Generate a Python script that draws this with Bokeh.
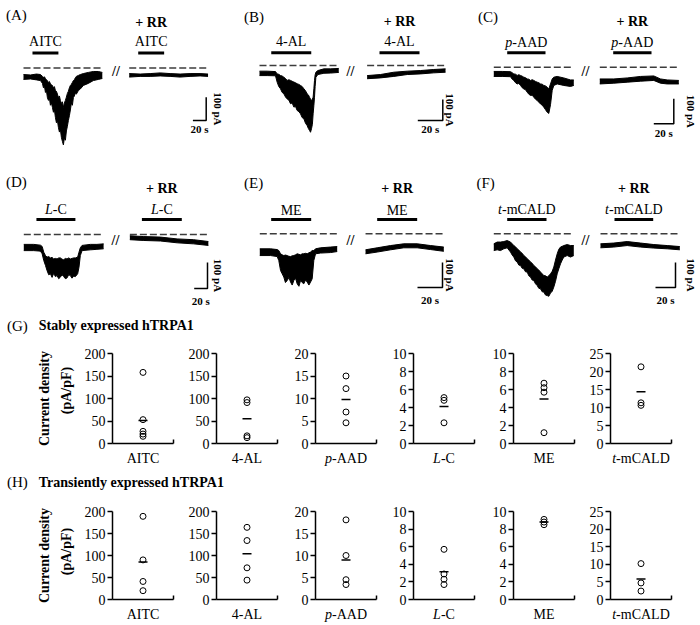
import math
from bokeh.plotting import figure
from bokeh.layouts import column, row
from bokeh.models import Range1d, FixedTicker
from bokeh.core.properties import value
from bokeh.embed import file_html
from bokeh.resources import INLINE

SERIF = "'Liberation Serif', 'Times New Roman', serif"

# ---------------- Current traces (time in s, current in pA; lo/hi = envelope of noisy record)
A_ctrl_t = [0, 10.5, 19.5, 25.5, 28.5, 30, 31.5, 33, 34.5, 36, 37.5, 39, 40.5, 42, 43.5, 45, 46.5, 48, 49.5, 51,
            52.5, 54, 55.5, 57, 58.5, 60, 61.5, 63, 64.5, 66, 67.5, 69, 70.5, 72, 73.5, 75, 76.5, 78, 79.5, 82.5,
            85.5, 90, 97.5, 105, 112.5, 118.5]
A_ctrl_hi = [-28, -30, -26, -28, -36, -40, -38, -45, -50, -55, -62, -58, -68, -72, -75, -85, -80, -97, -100, -112,
             -127, -120, -140, -152, -145, -169, -150, -139, -125, -109, -100, -85, -75, -70, -62, -54, -50, -42, -36, -32,
             -28, -24, -19, -15, -15, -19]
A_ctrl_lo = [-49, -47, -51, -54, -66, -85, -78, -105, -98, -128, -139, -130, -160, -150, -169, -190, -180, -212, -235, -225,
             -255, -275, -265, -298, -315, -330, -300, -310, -270, -250, -225, -205, -180, -150, -160, -127, -120, -108, -112, -97,
             -90, -75, -66, -54, -49, -45]
A_rr_t = [159, 175.5, 190.5, 205.5, 220.5, 235.5, 250.5, 265.5, 277.5]
A_rr_hi = [-24, -26, -24, -21, -24, -26, -24, -24, -26]
A_rr_lo = [-39, -36, -36, -34, -36, -39, -36, -34, -36]
A_on = [13.5, 52.5]
A_rr_on = [172.5, 211.5]

B_ctrl_t = [0, 6.1, 12.8, 14.1, 15.4, 16.8, 18.1, 19.5, 20.8, 22.1, 23.5, 24.8, 26.1, 27.5, 28.8, 30.1, 31.5, 32.8,
            34.1, 35.5, 36.8, 38.1, 39.1, 40.0, 40.8, 41.6, 42.3, 42.9, 43.5, 44.0, 44.5, 45.1, 46.7, 51.5, 56.8, 63.4]
B_ctrl_hi = [-27, -27, -29, -40, -42, -48, -50, -56, -62, -71, -68, -71, -75, -79, -82, -87, -90, -95,
             -100, -111, -120, -135, -140, -151, -160, -167, -160, -151, -110, -71, -45, -32, -24, -16, -16, -14]
B_ctrl_lo = [-48, -48, -49, -79, -100, -111, -128, -135, -150, -159, -165, -182, -178, -198, -195, -214, -220, -230,
             -248, -254, -275, -286, -300, -309, -318, -301, -280, -230, -190, -151, -100, -56, -43, -37, -36, -33]
B_rr_t = [86.1, 96.8, 107.4, 118.2, 128.8, 139.4, 148.8]
B_rr_hi = [-48, -43, -32, -27, -24, -19, -16]
B_rr_lo = [-63, -59, -52, -43, -40, -35, -32]
B_on = [9.4, 41.4]
B_rr_on = [96, 128]

C_ctrl_t = [0, 8.4, 16.7, 18.4, 20, 21.7, 23.4, 25, 26.7, 28.4, 30, 31.7, 33.4, 35, 36.7, 38.4, 40, 41.7, 43.4, 45,
            46.7, 48.4, 50, 51.7, 53.4, 55, 56.7, 58.4, 60, 63.4, 70, 76.7, 80]
C_ctrl_hi = [-17, -17, -18, -22, -27, -28, -33, -30, -33, -36, -40, -42, -47, -48, -53, -50, -53, -57, -60, -62,
             -67, -68, -73, -75, -80, -87, -67, -47, -40, -37, -43, -51, -51]
C_ctrl_lo = [-37, -37, -38, -48, -53, -62, -67, -65, -73, -82, -87, -90, -100, -108, -113, -112, -120, -128, -133, -140,
             -147, -152, -160, -170, -180, -185, -150, -93, -73, -67, -73, -77, -73]
C_rr_t = [106, 120, 133.4, 146.7, 160, 166.7, 173.4, 185]
C_rr_hi = [-47, -47, -43, -37, -35, -47, -51, -53]
C_rr_lo = [-67, -64, -60, -56, -53, -64, -67, -67]
C_on = [13.4, 51.7]
C_rr_on = [119.4, 157.7]

D_ctrl_t = [0, 15, 25, 27.6, 30, 32.6, 35, 37.5, 40, 42.5, 45, 47.5, 50, 52.5, 55, 57.5, 60, 62.5, 65, 67.5, 70,
            72.5, 75, 77.6, 81, 83, 85, 87.6, 100, 110, 120]
D_ctrl_hi = [-38, -38, -41, -46, -68, -81, -87, -85, -90, -88, -94, -92, -94, -90, -90, -95, -97, -92, -94, -90, -94,
             -92, -90, -90, -87, -68, -51, -42, -38, -38, -36]
D_ctrl_lo = [-62, -62, -64, -74, -100, -119, -139, -155, -151, -165, -149, -162, -158, -170, -164, -155, -162, -170, -167, -155, -158,
             -168, -160, -162, -151, -126, -81, -62, -59, -57, -55]
D_rr_t = [159.5, 180.5, 205.5, 230.6, 255.5, 277.5]
D_rr_hi = [-5, -8, -10, -17, -20, -27]
D_rr_lo = [-20, -23, -25, -32, -36, -42]
D_on = [19, 77.6]
D_rr_on = [177.6, 237.6]

E_ctrl_t = [0, 8.6, 13.9, 15.2, 16.6, 17.9, 19.2, 20.5, 21.9, 23.3, 24.6, 25.9, 27.2, 28.6, 29.9, 31.3, 32.6, 33.9,
            35.2, 36.6, 37.9, 39.3, 40.6, 41.9, 43.2, 44.6, 48.6, 56.6, 61.9]
E_ctrl_hi = [-60, -60, -63, -67, -80, -84, -87, -85, -87, -90, -91, -88, -87, -84, -80, -82, -84, -80,
             -80, -78, -80, -76, -73, -67, -67, -60, -56, -53, -51]
E_ctrl_lo = [-87, -87, -91, -107, -147, -160, -173, -195, -187, -175, -193, -205, -187, -178, -200, -210, -187, -195,
             -200, -185, -193, -205, -193, -180, -107, -80, -77, -75, -71]
E_rr_t = [84.6, 93.9, 104.6, 115.2, 125.9, 136.6, 147.2]
E_rr_hi = [-64, -56, -47, -40, -40, -47, -53]
E_rr_lo = [-80, -73, -64, -56, -56, -63, -70]
E_on = [9.1, 41.1]
E_rr_on = [93.9, 125.9]

F_ctrl_t = [0, 3.4, 6.7, 10, 13.4, 16.7, 18.4, 20, 21.7, 23.4, 25, 26.7, 28.4, 30, 31.7, 33.4, 35, 36.7, 38.4, 40,
            41.7, 43.4, 45, 46.7, 48.4, 50, 51.7, 53.4, 55, 56.7, 58.4, 60, 61.7, 63.4, 65, 66.7, 68.4, 70, 73.4,
            76.7, 80]
F_ctrl_hi = [-40, -33, -33, -31, -27, -33, -40, -47, -52, -60, -65, -73, -78, -87, -92, -100, -105, -113, -118, -127,
             -132, -140, -145, -153, -160, -167, -168, -173, -168, -160, -150, -133, -105, -80, -62, -53, -50, -47, -43,
             -47, -47]
F_ctrl_lo = [-67, -64, -67, -60, -56, -73, -85, -93, -108, -113, -125, -127, -138, -140, -152, -153, -168, -173, -185, -187,
             -200, -207, -218, -220, -232, -233, -245, -247, -250, -237, -230, -213, -190, -160, -140, -120, -105, -93, -87,
             -93, -87]
F_rr_t = [106.7, 120, 133.4, 146.7, 160, 173.4, 186]
F_rr_hi = [-40, -37, -31, -37, -43, -47, -51]
F_rr_lo = [-56, -53, -47, -53, -57, -60, -64]
F_on = [13.4, 52.7]
F_rr_on = [120.7, 159.4]

# ---------------- Current density scatter data (pA/pF)
categories = ["AITC", "4-AL", "p-AAD", "L-C", "ME", "t-mCALD"]
cat_parts = [[("AITC", "normal")], [("4-AL", "normal")], [("p", "italic"), ("-AAD", "normal")],
             [("L", "italic"), ("-C", "normal")], [("ME", "normal")], [("t", "italic"), ("-mCALD", "normal")]]
y_max = [200, 200, 20, 10, 10, 25]
y_step = [50, 50, 5, 2, 2, 5]
stable_vals = [[158, 53, 27, 21, 16], [97, 91, 17, 13], [15, 12.2, 7, 4.6], [5.1, 4.8, 2.3],
               [6.7, 6.2, 5.7, 1.2], [21.3, 11.3, 10.6]]
stable_mean = [51, 55, 9.8, 4.1, 4.95, 14.4]
trans_vals = [[189, 90, 41, 20], [164, 134, 72, 44], [18.1, 10, 4.5, 3.4], [5.7, 2.9, 2.3, 1.7],
              [9.1, 8.8, 8.5], [10.2, 4.7, 2.4]]
trans_mean = [85, 104, 9.0, 3.15, 8.8, 5.8]

# Times metrics (em) for centering mixed-style labels
W_REG = {'A': .722, 'I': .333, 'T': .611, 'C': .667, '4': .5, '-': .333, 'L': .611, 'D': .722,
         'M': .889, 'E': .611, 'm': .778, 'p': .5, 't': .278}
W_IT = {'p': .5, 'L': .556, 't': .278}


def split_parts(parts, size):
    widths = []
    for txt, style in parts:
        tab = W_IT if style == "italic" else W_REG
        widths.append(sum(tab.get(c, .5) for c in txt) * size)
    x = -sum(widths) / 2
    out = []
    for (txt, style), w in zip(parts, widths):
        out.append((txt, style, x))
        x += w
    return out


def glyph_parts(p, x, y, parts, size=14, baseline="middle"):
    for txt, style, off in split_parts(parts, size):
        p.text(x=[x], y=[y], text=[txt], x_offset=off, text_align="left", text_baseline=baseline,
               text_font=value(SERIF), text_font_size=f"{size}px", text_font_style=style,
               text_color="black")


def gtext(p, x, y, txt, size=14, style="normal", align="center", angle=0):
    p.text(x=[x], y=[y], text=[txt], text_align=align, text_baseline="middle", angle=angle,
           text_font=value(SERIF), text_font_size=f"{size}px", text_font_style=style,
           text_color="black")


def blank(p):
    p.grid.visible = False
    p.outline_line_color = None
    return p


def canvas(W, H):
    return blank(figure(width=W, height=H, x_range=Range1d(0, W), y_range=Range1d(H, 0),
                        output_backend="svg", toolbar_location=None, x_axis_location=None,
                        y_axis_location=None, min_border=0))


def trace_panel(g, ctrl, rr, on, rr_on, parts, tag):
    s_px = 20.0 / g["bar_h"]
    pa_px = 100.0 / g["bar_v"]
    tx = lambda rx: (rx - g["ax"]) * s_px
    ty = lambda ry: (g["ay"] - ry) * pa_px
    W = g["x1"] - g["x0"]
    H = g["y1"] - g["y0"]
    p = blank(figure(width=W, height=H, x_range=Range1d(tx(g["x0"]), tx(g["x1"])),
                     y_range=Range1d(ty(g["y1"]), ty(g["y0"])), output_backend="svg",
                     toolbar_location=None, x_axis_location=None, y_axis_location=None, min_border=0))
    for t, lo, hi in (ctrl, rr):
        p.line([t[0], t[-1]], [0, 0], line_color="#3c3c3c", line_width=1.6, line_dash="7 3")
        p.varea(x=t, y1=lo, y2=hi, fill_color="black")
        p.line(t, lo, line_color="black", line_width=1.0)
        p.line(t, hi, line_color="black", line_width=1.0)
    yb = ty(g["bar_y"])
    for w in (on, rr_on):
        p.line(w, [yb, yb], line_color="black", line_width=3)
        glyph_parts(p, (w[0] + w[1]) / 2, ty(g["lab_y"]), parts)
    gtext(p, (rr_on[0] + rr_on[1]) / 2, ty(g["rr_y"]), "+ RR", 14, "bold")
    gtext(p, tx(g["tag_x"]), ty(g["tag_y"]), tag, 15, "normal", "left")
    gtext(p, tx(g["sl_x"]), ty(g["sl_y"]), "//", 14, "bold")
    cx, cy = tx(g["sc_x"]), ty(g["sc_y"])
    p.line([cx - 20, cx, cx], [cy, cy, cy + 100], line_color="black", line_width=1.5)
    gtext(p, cx - 10, ty(g["s20_y"]), "20 s", 11, "bold")
    gtext(p, tx(g["pa_x"]), cy + 50, "100 pA", 11, "bold", "center", -math.pi / 2)
    return p


GA = dict(x0=0, x1=240, y0=0, y1=170, ax=23, ay=67.5, bar_h=13.3, bar_v=23.3, sc_x=205.7, sc_y=120,
          tag_x=5.5, tag_y=14.5, rr_y=22, lab_y=41, bar_y=52.5, sl_x=115.5, sl_y=70.5, s20_y=128, pa_x=217)
GB = dict(x0=240, x1=474, y0=0, y1=170, ax=259, ay=65, bar_h=25, bar_v=21, sc_x=442.3, sc_y=120,
          tag_x=243.5, tag_y=16, rr_y=21, lab_y=41, bar_y=52.3, sl_x=350, sl_y=71, s20_y=128, pa_x=449)
GC = dict(x0=474, x1=700, y0=0, y1=170, ax=493.3, ay=66.7, bar_h=20, bar_v=25, sc_x=673.3, sc_y=123.3,
          tag_x=477.5, tag_y=16, rr_y=21, lab_y=42, bar_y=52.3, sl_x=585, sl_y=71, s20_y=132.7, pa_x=690)
GD = dict(x0=0, x1=240, y0=170, y1=312, ax=23.3, ay=234, bar_h=13.3, bar_v=26, sc_x=207, sc_y=288,
          tag_x=5.5, tag_y=181, rr_y=188, lab_y=209, bar_y=219, sl_x=115, sl_y=240, s20_y=300, pa_x=217)
GE = dict(x0=240, x1=474, y0=170, y1=312, ax=259.3, ay=233.3, bar_h=25, bar_v=25, sc_x=442, sc_y=287,
          tag_x=243.5, tag_y=182, rr_y=188, lab_y=210, bar_y=219, sl_x=350, sl_y=240, s20_y=299, pa_x=449)
GF = dict(x0=474, x1=700, y0=170, y1=312, ax=493.3, ay=233.3, bar_h=20, bar_v=25, sc_x=675, sc_y=287,
          tag_x=476, tag_y=182, rr_y=188, lab_y=209, bar_y=219, sl_x=585, sl_y=240, s20_y=299, pa_x=690)

pA = trace_panel(GA, (A_ctrl_t, A_ctrl_lo, A_ctrl_hi), (A_rr_t, A_rr_lo, A_rr_hi), A_on, A_rr_on, cat_parts[0], "(A)")
pB = trace_panel(GB, (B_ctrl_t, B_ctrl_lo, B_ctrl_hi), (B_rr_t, B_rr_lo, B_rr_hi), B_on, B_rr_on, cat_parts[1], "(B)")
pC = trace_panel(GC, (C_ctrl_t, C_ctrl_lo, C_ctrl_hi), (C_rr_t, C_rr_lo, C_rr_hi), C_on, C_rr_on, cat_parts[2], "(C)")
pD = trace_panel(GD, (D_ctrl_t, D_ctrl_lo, D_ctrl_hi), (D_rr_t, D_rr_lo, D_rr_hi), D_on, D_rr_on, cat_parts[3], "(D)")
pE = trace_panel(GE, (E_ctrl_t, E_ctrl_lo, E_ctrl_hi), (E_rr_t, E_rr_lo, E_rr_hi), E_on, E_rr_on, cat_parts[4], "(E)")
pF = trace_panel(GF, (F_ctrl_t, F_ctrl_lo, F_ctrl_hi), (F_rr_t, F_rr_lo, F_rr_hi), F_on, F_rr_on, cat_parts[5], "(F)")


def header(H, tag, title, yc):
    p = canvas(700, H)
    gtext(p, 6.5, yc, tag, 15, "normal", "left")
    gtext(p, 38.3, yc, title, 14, "bold", "left")
    return p


TITLE_W = 75
WIDTHS = [110, 100, 100, 100, 98, 117]
BL = [37, 31, 30, 28, 28, 27]
BR = [12, 8, 9, 11, 9, 29]


def scatter_panel(i, vals, mean, bt, fh, bb):
    p = blank(figure(width=WIDTHS[i], height=bt + fh + bb, x_range=Range1d(0, 1),
                     y_range=Range1d(0, y_max[i]), output_backend="svg", toolbar_location=None,
                     min_border_left=BL[i], min_border_right=BR[i], min_border_top=bt,
                     min_border_bottom=bb))
    p.yaxis.ticker = FixedTicker(ticks=list(range(0, y_max[i] + 1, y_step[i])))
    p.xaxis.ticker = FixedTicker(ticks=[], minor_ticks=[1])
    xa, ya = p.xaxis[0], p.yaxis[0]
    xa.major_tick_in = 0
    xa.major_tick_out = 0
    xa.major_label_standoff = 0
    xa.minor_tick_in = 4
    xa.minor_tick_out = 0
    xa.minor_tick_line_width = 1.5
    xa.minor_tick_line_color = "black"
    ya.major_tick_in = 0
    ya.major_tick_out = 5
    ya.major_label_standoff = 2
    ya.minor_tick_line_color = None
    for ax in (xa, ya):
        ax.axis_line_width = 1.5
        ax.axis_line_color = "black"
        ax.major_tick_line_width = 1.5
        ax.major_tick_line_color = "black"
    ya.major_label_text_font = SERIF
    ya.major_label_text_font_size = "14px"
    ya.major_label_text_color = "black"
    p.scatter(x=[0.5] * len(vals), y=vals, marker="circle", size=6, fill_color=None,
              line_color="black", line_width=1)
    p.scatter(x=[0.5], y=[mean], marker="dash", size=9, line_color="black", line_width=1.5)
    return p


def ytitle_fig(H, cd_y, pa_y):
    p = canvas(TITLE_W, H)
    gtext(p, 44, cd_y, "Current density", 14, "bold", "center", math.pi / 2)
    gtext(p, 66, pa_y, "(pA/pF)", 14, "bold", "center", math.pi / 2)
    return p


def label_strip(H):
    W = sum(WIDTHS)
    p = canvas(W, H)
    x0 = 0
    for i in range(6):
        fw = WIDTHS[i] - BL[i] - BR[i]
        glyph_parts(p, x0 + BL[i] + fw / 2, 0, cat_parts[i], 14, "top")
        x0 += WIDTHS[i]
    return p


def block(vals, means, bt, fh, bb, strip_h, cd_y, pa_y):
    figs = [scatter_panel(i, vals[i], means[i], bt, fh, bb) for i in range(6)]
    H = bt + fh + bb + strip_h
    return row(ytitle_fig(H, cd_y, pa_y), column(row(*figs), label_strip(strip_h)))


hG = header(28, "(G)", "Stably expressed hTRPA1", 13)
blockG = block(stable_vals, stable_mean, 13, 90, 7, 18, 58, 50)
hH = header(29, "(H)", "Transiently expressed hTRPA1", 13.5)
blockH = block(trans_vals, trans_mean, 14, 88, 7, 19, 58, 54)

layout = column(row(pA, pB, pC), row(pD, pE, pF), hG, blockG, hH, blockH)

open("out.html", "w").write(file_html(layout, INLINE))
